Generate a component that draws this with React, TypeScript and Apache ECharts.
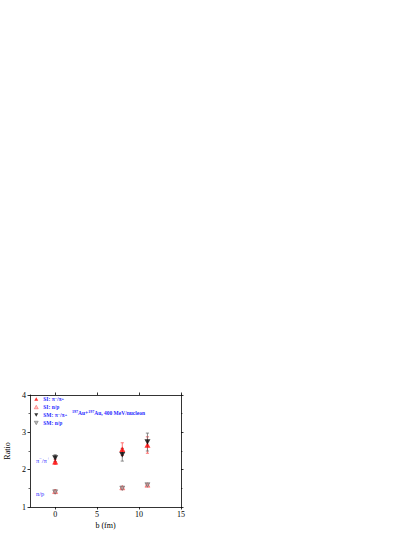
import React, { useEffect, useRef } from "react";
import * as echarts from "echarts";

const bValues = [0, 8, 11];
const siPiRatio = [2.21, 2.55, 2.66];
const siPiErr = [0.07, 0.17, 0.22];
const siNP = [1.42, 1.52, 1.59];
const siNPErr = [0.04, 0.03, 0.03];
const smPiRatio = [2.31, 2.4, 2.74];
const smPiErr = [0.09, 0.17, 0.24];
const smNP = [1.4, 1.5, 1.59];
const smNPErr = [0.03, 0.03, 0.03];
const xTicks = [0, 5, 10, 15];

const FONT = "Liberation Serif";
const BLUE = "#2a2aff";
const DOWN = "path://M0,0L10,0L5,9Z";
const UP = "path://M5,0L10,9L0,9Z";

function errSeries(vals: number[], errs: number[], color: string) {
  const data = bValues.map((b, i) => [b, vals[i] - errs[i], vals[i] + errs[i]]);
  return {
    type: "custom",
    silent: true,
    z: 1,
    data,
    renderItem: (params: any, api: any) => {
      const x = api.value(0);
      const lo = api.coord([x, api.value(1)]);
      const hi = api.coord([x, api.value(2)]);
      const w = 1.6;
      const style = { stroke: color, lineWidth: 0.8 };
      return {
        type: "group",
        children: [
          { type: "line", shape: { x1: lo[0], y1: lo[1], x2: hi[0], y2: hi[1] }, style },
          { type: "line", shape: { x1: lo[0] - w, y1: lo[1], x2: lo[0] + w, y2: lo[1] }, style },
          { type: "line", shape: { x1: hi[0] - w, y1: hi[1], x2: hi[0] + w, y2: hi[1] }, style },
        ],
      };
    },
  };
}

const legendRich = {
  t: { fontFamily: FONT, fontSize: 5.5, lineHeight: 5.5, color: BLUE, fontWeight: "bold" },
  s: { fontFamily: FONT, fontSize: 4.2, lineHeight: 5.5, color: BLUE, fontWeight: "bold", verticalAlign: "top" },
};
const graphicRich = {
  t: { fontFamily: FONT, fontSize: 5.5, fill: BLUE, fontWeight: "bold" },
  s: { fontFamily: FONT, fontSize: 4, fill: BLUE, fontWeight: "bold", verticalAlign: "top", padding: [0, 0, 3, 0] },
  T: { fontFamily: FONT, fontSize: 6.5, fill: BLUE },
  S: { fontFamily: FONT, fontSize: 4.5, fill: BLUE, verticalAlign: "top", padding: [0, 0, 4, 0] },
};

export default function App() {
  const ref = useRef<HTMLDivElement>(null);
  useEffect(() => {
    if (!ref.current) return;
    const chart = echarts.init(ref.current, null, { renderer: "svg" });
    const pts = (vals: number[]) => bValues.map((b, i) => [b, vals[i]]);
    const axLine = { show: true, onZero: false, lineStyle: { color: "#000", width: 0.8 } };
    chart.setOption({
      animation: false,
      backgroundColor: "#ffffff",
      grid: { left: 30, right: 234, top: 395, bottom: 30 },
      xAxis: [
        {
          type: "value",
          min: -3,
          max: 15,
          name: "b (fm)",
          nameLocation: "middle",
          nameGap: 14,
          nameTextStyle: { fontFamily: FONT, fontSize: 8, color: "#000" },
          axisLine: axLine,
          axisTick: { show: true, customValues: xTicks, length: 2.5, lineStyle: { color: "#000", width: 0.8 } },
          axisLabel: { customValues: xTicks, fontFamily: FONT, fontSize: 8, color: "#000", margin: 3 },
          splitLine: { show: false },
        },
        {
          type: "value",
          min: -3,
          max: 15,
          position: "top",
          axisLine: axLine,
          axisTick: { show: true, customValues: xTicks, length: 2.5, lineStyle: { color: "#000", width: 0.8 } },
          axisLabel: { show: false },
          splitLine: { show: false },
        },
      ],
      yAxis: [
        {
          type: "value",
          min: 1,
          max: 4,
          interval: 1,
          name: "Ratio",
          nameLocation: "middle",
          nameGap: 19,
          nameTextStyle: { fontFamily: FONT, fontSize: 8, color: "#000" },
          axisLine: axLine,
          axisTick: { show: true, length: 2.5, lineStyle: { color: "#000", width: 0.8 } },
          minorTick: { show: true, splitNumber: 2, length: 1.5, lineStyle: { color: "#000", width: 0.6 } },
          axisLabel: { fontFamily: FONT, fontSize: 8, color: "#000", margin: 4 },
          splitLine: { show: false },
        },
        {
          type: "value",
          min: 1,
          max: 4,
          interval: 1,
          position: "right",
          axisLine: axLine,
          axisTick: { show: true, length: 2.5, lineStyle: { color: "#000", width: 0.8 } },
          minorTick: { show: true, splitNumber: 2, length: 1.5, lineStyle: { color: "#000", width: 0.6 } },
          axisLabel: { show: false },
          splitLine: { show: false },
        },
      ],
      legend: {
        orient: "vertical",
        left: 34,
        top: 396,
        itemWidth: 4,
        itemHeight: 4,
        itemGap: 2,
        padding: 0,
        data: [
          { name: "SI: π-/π+", icon: UP, itemStyle: { color: "#ff0000", borderWidth: 0 } },
          { name: "SI: n/p", icon: UP, itemStyle: { color: "#ffb0b0", borderColor: "#ff3030", borderWidth: 0.5 } },
          { name: "SM: π-/π+", icon: DOWN, itemStyle: { color: "#000000", borderWidth: 0 } },
          { name: "SM: n/p", icon: DOWN, itemStyle: { color: "#a0a0a0", borderColor: "#505050", borderWidth: 0.5 } },
        ],
        formatter: (name: string) => {
          if (name.indexOf("π") >= 0) {
            const p = name.split(":")[0];
            return `{t|${p}: π}{s|−}{t|/π}{s|+}`;
          }
          return `{t|${name}}`;
        },
        textStyle: { rich: legendRich, padding: [0, 0, 0, 0] },
      },
      series: [
        errSeries(siPiRatio, siPiErr, "#ff5050"),
        errSeries(smPiRatio, smPiErr, "#707070"),
        errSeries(siNP, siNPErr, "#ff8080"),
        errSeries(smNP, smNPErr, "#808080"),
        {
          name: "SI: π-/π+",
          type: "scatter",
          symbol: UP,
          symbolSize: [6, 5.5],
          itemStyle: { color: "#ff0000" },
          z: 3,
          data: pts(siPiRatio),
        },
        {
          name: "SI: n/p",
          type: "scatter",
          symbol: UP,
          symbolSize: [5, 4.5],
          itemStyle: { color: "#ffb0b0", borderColor: "#ff3030", borderWidth: 0.6 },
          z: 3,
          data: pts(siNP),
        },
        {
          name: "SM: π-/π+",
          type: "scatter",
          symbol: DOWN,
          symbolSize: [6, 5.5],
          itemStyle: { color: "#000000" },
          z: 4,
          data: pts(smPiRatio),
        },
        {
          name: "SM: n/p",
          type: "scatter",
          symbol: DOWN,
          symbolSize: [5, 4.5],
          itemStyle: { color: "rgba(150,150,150,0.7)", borderColor: "#505050", borderWidth: 0.6 },
          z: 4,
          data: pts(smNP),
        },
      ],
      graphic: [
        {
          type: "text",
          left: 72,
          top: 409,
          style: {
            text: "{s|197}{t|Au+}{s|197}{t|Au, 400 MeV/nucleon}",
            rich: graphicRich,
          },
        },
        {
          type: "text",
          left: 36,
          top: 456,
          style: {
            text: "{T|π}{S|−}{T|/π}{S|+}",
            rich: graphicRich,
          },
        },
        {
          type: "text",
          left: 36,
          top: 490,
          style: { text: "n/p", fontFamily: FONT, fontSize: 6.5, fill: BLUE },
        },
      ],
    });
    return () => chart.dispose();
  }, []);
  return (
    <div
      ref={ref}
      style={{ position: "fixed", left: 0, top: 0, width: 415, height: 537 }}
    />
  );
}
